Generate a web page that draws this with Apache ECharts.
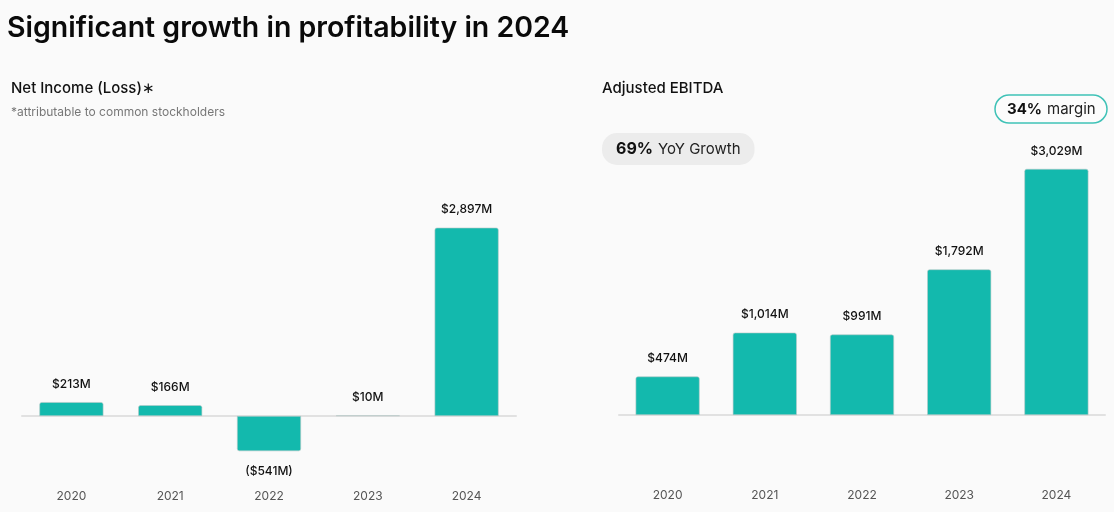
<!DOCTYPE html>
<html lang="en">
<head>
    <meta charset="UTF-8">
    <title>Significant growth in profitability in 2024</title>
    <script src="https://cdn.jsdelivr.net/npm/echarts@6.0.0/dist/echarts.min.js"></script>
    <style>
        html, body { margin: 0; padding: 0; background: #fafafa; }
        #chart { width: 1114px; height: 512px; }
    </style>
</head>
<body>
    <div id="chart"></div>

    <script>
// data
const years = ['2020', '2021', '2022', '2023', '2024'];
const netIncome = [213, 166, -541, 10, 2897];
const adjEbitda = [474, 1014, 991, 1792, 3029];

const TEAL = '#13b9ad';
const FONT = 'Inter, "Noto Sans", sans-serif';

const chart = echarts.init(document.getElementById('chart'));

function money(v) {
    const s = '$' + Math.abs(v).toLocaleString('en-US') + 'M';
    return v < 0 ? '(' + s + ')' : s;
}

function barData(arr) {
    return arr.map(v => ({
        value: v,
        itemStyle: { borderRadius: v < 0 ? [0, 0, 2, 2] : [2, 2, 0, 0] },
        label: v < 0 ? { position: 'bottom', distance: 14 } : { position: 'top', distance: 12 }
    }));
}

// zero line axis (no labels) + label axis at the bottom of the grid
function xAxesFor(gridIndex) {
    return [
        {
            type: 'category',
            gridIndex: gridIndex,
            data: years,
            axisLine: { show: true, onZero: true, lineStyle: { color: '#e1e1e1', width: 2 } },
            axisTick: { show: false },
            axisLabel: { show: false }
        },
        {
            type: 'category',
            gridIndex: gridIndex,
            data: years,
            position: 'bottom',
            axisLine: { show: false, onZero: false },
            axisTick: { show: false },
            axisLabel: { color: '#555', fontSize: 12, fontFamily: FONT, margin: 9 }
        }
    ];
}

function barSeries(idx, data) {
    return {
        type: 'bar',
        xAxisIndex: idx * 2,
        yAxisIndex: idx,
        barWidth: 64,
        data: barData(data),
        itemStyle: { color: TEAL, borderColor: '#b9c9c7', borderWidth: 0.6 },
        label: {
            show: true,
            color: '#111',
            fontSize: 12,
            fontWeight: 500,
            fontFamily: FONT,
            formatter: p => money(p.value)
        }
    };
}

const option = {
    backgroundColor: '#fafafa',
    animation: false,
    title: [
        {
            text: 'Significant growth in profitability in 2024',
            left: 2, top: 9,
            textStyle: { fontSize: 28.5, fontWeight: 600, color: '#0a0a0a', fontFamily: FONT }
        },
        {
            text: 'Net Income (Loss)\u2217',
            subtext: '*attributable to common stockholders',
            left: 6, top: 76, itemGap: 10,
            textStyle: { fontSize: 15, fontWeight: 500, color: '#111', fontFamily: FONT },
            subtextStyle: { fontSize: 12, color: '#777', fontFamily: FONT }
        },
        {
            text: 'Adjusted EBITDA',
            left: 597, top: 76,
            textStyle: { fontSize: 15, fontWeight: 500, color: '#111', fontFamily: FONT }
        },
        {
            text: '{b|69%} {n|YoY Growth}',
            left: 602, top: 133,
            padding: [7, 14, 7, 14],
            backgroundColor: '#ececec',
            borderRadius: 15,
            textStyle: {
                rich: {
                    b: { fontSize: 16, fontWeight: 700, color: '#111', fontFamily: FONT },
                    n: { fontSize: 15, fontWeight: 400, color: '#222', fontFamily: FONT }
                }
            }
        },
        {
            text: '{b|34%} {n|margin}',
            left: 995, top: 95,
            padding: [5, 12, 5, 12],
            backgroundColor: '#fcfcfc',
            borderColor: '#3fc2b7',
            borderWidth: 1.5,
            borderRadius: 14,
            textStyle: {
                rich: {
                    b: { fontSize: 15, fontWeight: 700, color: '#111', fontFamily: FONT },
                    n: { fontSize: 15, fontWeight: 400, color: '#222', fontFamily: FONT }
                }
            }
        }
    ],
    grid: [
        { left: 22, right: 598, top: 221, bottom: 31 },
        { left: 619, right: 9, top: 155, bottom: 32 }
    ],
    xAxis: xAxesFor(0).concat(xAxesFor(1)),
    yAxis: [
        { type: 'value', gridIndex: 0, min: -1000, max: 3000, show: false },
        { type: 'value', gridIndex: 1, min: -800, max: 3200, show: false }
    ],
    series: [
        barSeries(0, netIncome),
        barSeries(1, adjEbitda)
    ]
};

chart.setOption(option);
    </script>
</body>
</html>
